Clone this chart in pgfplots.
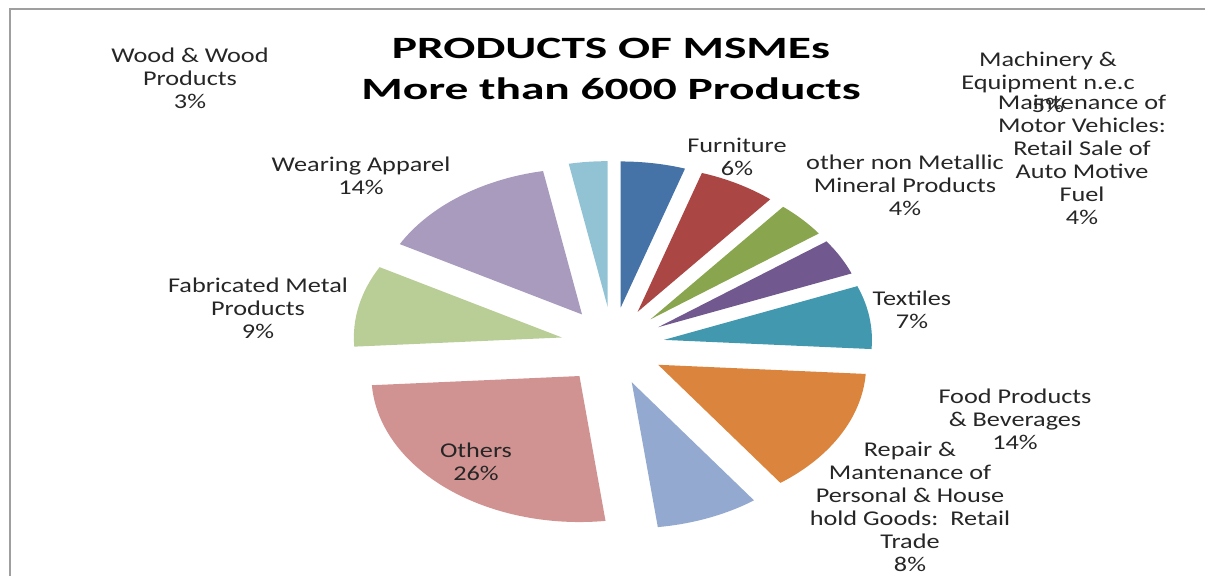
\documentclass[border=0pt]{standalone}
\usepackage{pgfplots}
\pgfplotsset{compat=1.18}
\usepackage{pgfplotstable}
\usepackage{graphicx}
\usepackage{fontspec}
\setmainfont{Carlito}

% Excel 2007 default pie colours, in slice order
\definecolor{slice0}{HTML}{4572A7}
\definecolor{slice1}{HTML}{AA4643}
\definecolor{slice2}{HTML}{89A54E}
\definecolor{slice3}{HTML}{71588F}
\definecolor{slice4}{HTML}{4198AF}
\definecolor{slice5}{HTML}{DB843D}
\definecolor{slice6}{HTML}{93A9CF}
\definecolor{slice7}{HTML}{D19392}
\definecolor{slice8}{HTML}{B9CD96}
\definecolor{slice9}{HTML}{A99BBD}
\definecolor{slice10}{HTML}{92C3D4}

% shares in percent, clockwise from 12 o'clock
\pgfplotstableread[col sep=comma]{
name,value
Machinery and Equipment,5
Furniture,6
other non Metallic Mineral Products,4
Maintenance of Motor Vehicles,4
Textiles,7
Food Products and Beverages,14
Repair and Mantenance,8
Others,26
Fabricated Metal Products,9
Wearing Apparel,14
Wood and Wood Products,3
}\slices

% label at pixel position (x, y from top)
\newcommand\lbl[3]{\node[text=black!85, inner sep=0pt] at (axis cs:#1,-#2-2.5)
  {\fontsize{10.5}{11.5}\selectfont\scalebox{1.25}[1]{\begin{tabular}{@{}c@{}}#3\end{tabular}}};}

\begin{document}
\begin{tikzpicture}
\useasboundingbox (0,0) rectangle (602.5pt,288pt);
\begin{axis}[
    at={(0,0)}, anchor=south west,
    width=602.5pt, height=288pt, scale only axis,
    xmin=0, xmax=1205, ymin=-576, ymax=0,
    hide axis, clip=false,
]
\draw[gray!75, line width=1pt] (axis cs:10,-576) -- (axis cs:10,-9) -- (axis cs:1205,-9);

\pgfmathsetmacro\angA{90}
\pgfplotsforeachungrouped \i in {0,...,10}{
  \pgfplotstablegetelem{\i}{value}\of\slices
  \pgfmathsetmacro\angB{\angA-3.6*\pgfplotsretval}
  \pgfmathsetmacro\angM{(\angA+\angB)/2}
  \pgfmathsetmacro\ox{612.6+52*cos(\angM)}
  \pgfmathsetmacro\oy{-346+39*sin(\angM)}
  \pgfmathsetmacro\sx{\ox+208*cos(\angA)}
  \pgfmathsetmacro\sy{\oy+146*sin(\angA)}
  \edef\temp{\noexpand\fill[slice\i] (axis cs:\ox,\oy) -- (axis cs:\sx,\sy)
    arc[start angle=\angA, end angle=\angB, x radius=104pt, y radius=73pt] -- cycle;}
  \temp
  \global\let\angA\angB
}

\node[inner sep=0pt] at (axis cs:611,-71)
  {\fontsize{15.5}{20.5}\selectfont\bfseries\scalebox{1.53}[1]{\begin{tabular}{@{}c@{}}PRODUCTS OF MSMEs\\More than 6000 Products\end{tabular}}};

\lbl{190}{78}{Wood \& Wood\\Products\\3\%}
\lbl{361}{176}{Wearing Apparel\\14\%}
\lbl{258}{308}{Fabricated Metal\\Products\\9\%}
\lbl{476}{462}{Others\\26\%}
\lbl{910}{507}{Repair \&\\Mantenance of\\Personal \& House\\hold Goods:\ \ Retail\\Trade\\8\%}
\lbl{1015}{419}{Food Products\\\& Beverages\\14\%}
\lbl{912}{310}{Textiles\\7\%}
\lbl{905}{185}{other non Metallic\\Mineral Products\\4\%}
\lbl{737}{157}{Furniture\\6\%}
\lbl{1048}{82}{Machinery \&\\Equipment n.e.c\\5\%}
\lbl{1082}{160}{Maintenance of\\Motor Vehicles:\\Retail Sale of\\Auto Motive\\Fuel\\4\%}
\end{axis}
\end{tikzpicture}
\end{document}
